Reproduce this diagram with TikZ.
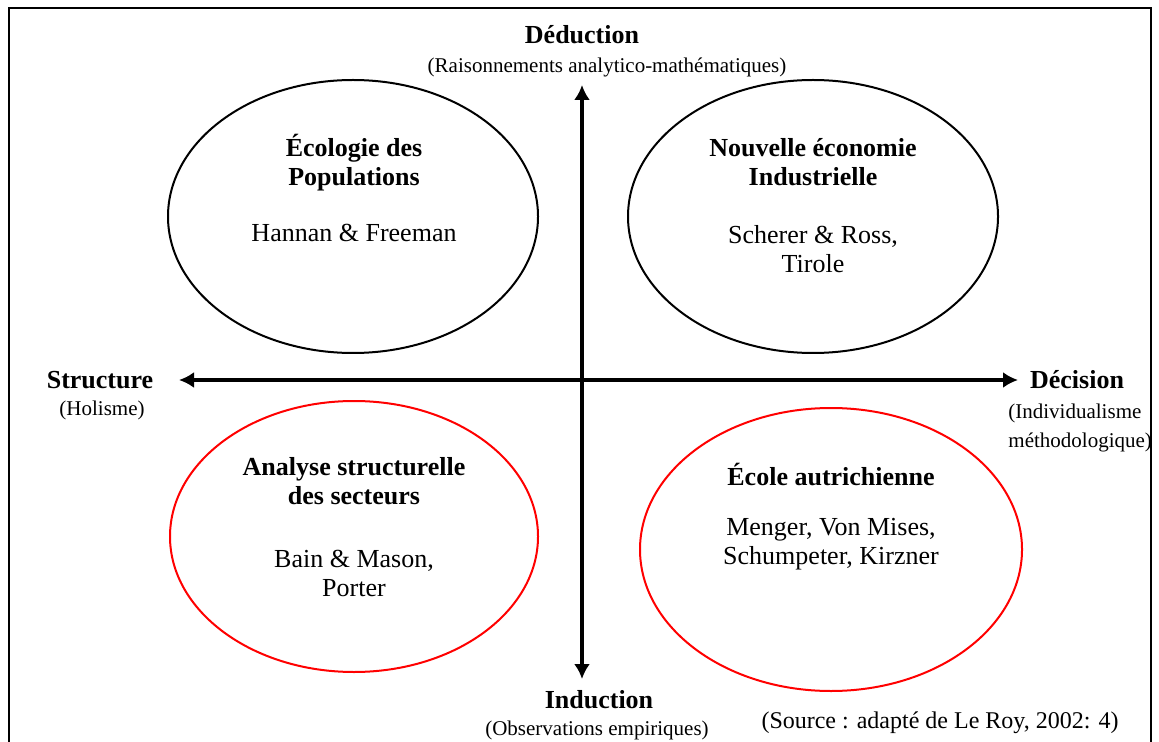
\documentclass[tikz,border=0pt]{standalone}
\usepackage{fontspec}
\setmainfont{Liberation Serif}
\usetikzlibrary{positioning,shapes.geometric,arrows.meta}

\tikzset{
  ecole/.style={draw, ellipse, line width=1pt, inner sep=0pt},
  titre/.style={font=\fontsize{13}{14.5}\selectfont\bfseries, align=center, inner sep=0pt},
  auteurs/.style={font=\fontsize{13}{14.5}\selectfont, align=center, inner sep=0pt},
  petit/.style={font=\fontsize{10.5}{14.5}\selectfont, inner sep=0pt},
  axe/.style={line width=1.6pt, {Latex[length=7.5pt,width=8pt]}-{Latex[length=7.5pt,width=8pt]}}
}

\begin{document}
\begin{tikzpicture}[x=0.5pt, y=-0.5pt]
\useasboundingbox (0,0) rectangle (1159,742);
\draw[line width=1.2pt] (9,760) -- (9,8) -- (1151,8) -- (1151,760);

% les quatre ecoles
\node[ecole, minimum width=185pt, minimum height=136.5pt] (eco) at (353,216.5) {};
\node[ecole, minimum width=185pt, minimum height=136.5pt] (neo) at (813,216.5) {};
\node[ecole, red, minimum width=184pt, minimum height=135.5pt] (ana) at (354,536.5) {};
\node[ecole, red, minimum width=191pt, minimum height=141.5pt] (aut) at (831,549.5) {};

\node[titre] (ecoT) at (354,162.5) {Écologie des\\Populations};
\node[auteurs] (ecoA) at (354,233) {Hannan \& Freeman};
\node[titre] (neoT) at (813,162) {Nouvelle économie\\Industrielle};
\node[auteurs] (neoA) at (813,249) {Scherer \& Ross,\\Tirole};
\node[titre] (anaT) at (354,481) {Analyse structurelle\\des secteurs};
\node[auteurs] (anaA) at (354,573) {Bain \& Mason,\\Porter};
\node[titre] (autT) at (831,475) {École autrichienne};
\node[auteurs] (autA) at (831,544) {Menger, Von Mises,\\Schumpeter, Kirzner};

% les axes
\node[titre] (ded) at (582,35) {Déduction};
\node[petit] (dedS) at (607,67) {(Raisonnements analytico-mathématiques)};
\node[titre] (ind) at (599,700) {Induction};
\node[petit] (indS) at (597,730) {(Observations empiriques)};
\node[titre] (str) at (100,380) {Structure};
\node[petit] (strS) at (102,410) {(Holisme)};
\node[titre] (dec) at (1077,380) {Décision};
\node[petit, align=left, anchor=west] (decS) at (1008,427.5) {(Individualisme\\méthodologique)};
\node[font=\fontsize{12}{14}\selectfont, inner sep=0pt] (src) at (940,723) {(Source : adapté de Le Roy, 2002: 4)};

\coordinate (haut) at (582,85);
\coordinate (bas) at (582,679);
\coordinate (gauche) at (179,380);
\coordinate (droite) at (1018,380);
\draw[axe] (bas) -- (haut);
\draw[axe] (gauche) -- (droite);
\end{tikzpicture}
\end{document}
